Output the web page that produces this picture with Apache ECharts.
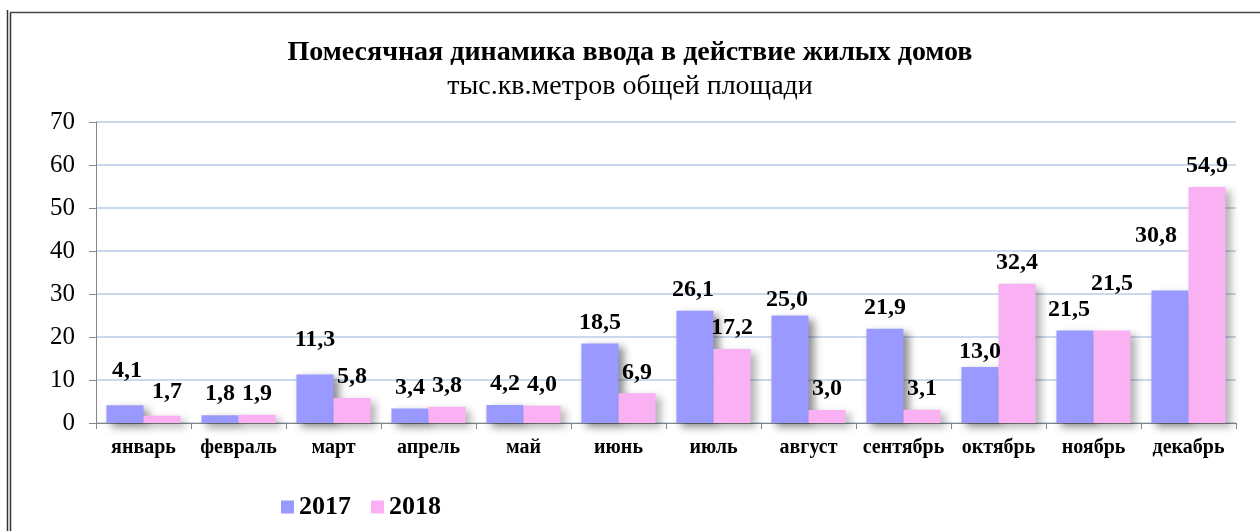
<!DOCTYPE html>
<html>
<head>
<meta charset="utf-8">
<script src="https://cdn.jsdelivr.net/npm/echarts@6/dist/echarts.min.js"></script>
<style>
  html, body { margin: 0; padding: 0; background: #fff; }
  #main { width: 1260px; height: 531px; }
</style>
</head>
<body>
<div id="main"></div>
<script>
var months = ['январь', 'февраль', 'март', 'апрель', 'май', 'июнь', 'июль', 'август', 'сентябрь', 'октябрь', 'ноябрь', 'декабрь'];
var v2017 = [4.1, 1.8, 11.3, 3.4, 4.2, 18.5, 26.1, 25.0, 21.9, 13.0, 21.5, 30.8];
var v2018 = [1.7, 1.9, 5.8, 3.8, 4.0, 6.9, 17.2, 3.0, 3.1, 32.4, 21.5, 54.9];
var yTicks = [0, 10, 20, 30, 40, 50, 60, 70];

// hand-moved data labels in the original, [dx, dy] per month
var nudge2017 = [[2, -14], [0, 0], [0, -14], [0, 0], [0, 0], [0, 0], [-2, 0], [-3, 5], [0, 0], [0, 6], [-6, 0], [-14, -34]];
var nudge2018 = [[5, -3], [0, 0], [0, 0], [0, 0], [0, 0], [0, 0], [0, 0], [0, 0], [0, 0], [0, 0], [0, -26], [0, 0]];

var serif = '"Liberation Serif", "DejaVu Serif", serif';

var fmt = function (p) { return p.value.toFixed(1).replace('.', ','); };

function makeData(vals, nudge) {
    return vals.map(function (v, i) {
        return { value: v, label: { offset: nudge[i] } };
    });
}

var labelStyle = {
    show: true,
    position: 'top',
    distance: 9,
    formatter: fmt,
    fontFamily: serif,
    fontWeight: 'bold',
    fontSize: 24,
    color: '#000'
};

var myChart = echarts.init(document.getElementById('main'));
var option = {
    backgroundColor: '#fff',
    animation: false,
    title: {
        text: 'Помесячная динамика ввода в действие жилых домов',
        subtext: 'тыс.кв.метров общей площади',
        left: 'center',
        top: 34,
        itemGap: 6,
        textStyle: { fontFamily: serif, fontWeight: 'bold', fontSize: 28, color: '#000' },
        subtextStyle: { fontFamily: serif, fontSize: 28, color: '#000' }
    },
    legend: {
        left: 276,
        top: 489,
        itemWidth: 13,
        itemHeight: 13,
        itemGap: 20,
        icon: 'rect',
        textStyle: { fontFamily: serif, fontWeight: 'bold', fontSize: 26, color: '#000' },
        data: ['2017', '2018']
    },
    grid: {
        left: 96,
        right: 24,
        top: 122,
        bottom: 108
    },
    xAxis: {
        type: 'category',
        data: months,
        axisLine: { lineStyle: { color: '#868686', width: 1 } },
        axisTick: { show: true, length: 6, lineStyle: { color: '#868686' } },
        axisLabel: { interval: 0, fontFamily: serif, fontWeight: 'bold', fontSize: 20, color: '#000', margin: 15 }
    },
    yAxis: {
        type: 'value',
        min: yTicks[0],
        max: yTicks[yTicks.length - 1],
        interval: 10,
        axisLine: { show: true, lineStyle: { color: '#868686', width: 1 } },
        axisTick: { show: true, length: 7, inside: false, lineStyle: { color: '#868686' } },
        axisLabel: { fontFamily: serif, fontSize: 25, color: '#000', margin: 21 },
        splitLine: { lineStyle: { color: '#b9cde5', width: 1.5 } }
    },
    series: [
        {
            name: '2017',
            type: 'bar',
            data: makeData(v2017, nudge2017),
            barGap: '0%',
            barCategoryGap: '22%',
            itemStyle: {
                color: '#9999ff',
                shadowBlur: 8,
                shadowOffsetX: 5,
                shadowOffsetY: 4,
                shadowColor: 'rgba(0,0,0,0.45)'
            },
            label: labelStyle
        },
        {
            name: '2018',
            type: 'bar',
            data: makeData(v2018, nudge2018),
            itemStyle: {
                color: '#f9b1f4',
                shadowBlur: 8,
                shadowOffsetX: 5,
                shadowOffsetY: 4,
                shadowColor: 'rgba(0,0,0,0.3)'
            },
            label: labelStyle
        }
    ],
    graphic: [
        { type: 'line', shape: { x1: 7.5, y1: 10, x2: 7.5, y2: 531 }, style: { stroke: '#333', lineWidth: 1.5 }, silent: true },
        { type: 'line', shape: { x1: 10.5, y1: 12.5, x2: 10.5, y2: 531 }, style: { stroke: '#333', lineWidth: 1.5 }, silent: true },
        { type: 'line', shape: { x1: 10, y1: 12.5, x2: 1260, y2: 12.5 }, style: { stroke: '#444', lineWidth: 1.5 }, silent: true }
    ]
};
myChart.setOption(option);
</script>
</body>
</html>
